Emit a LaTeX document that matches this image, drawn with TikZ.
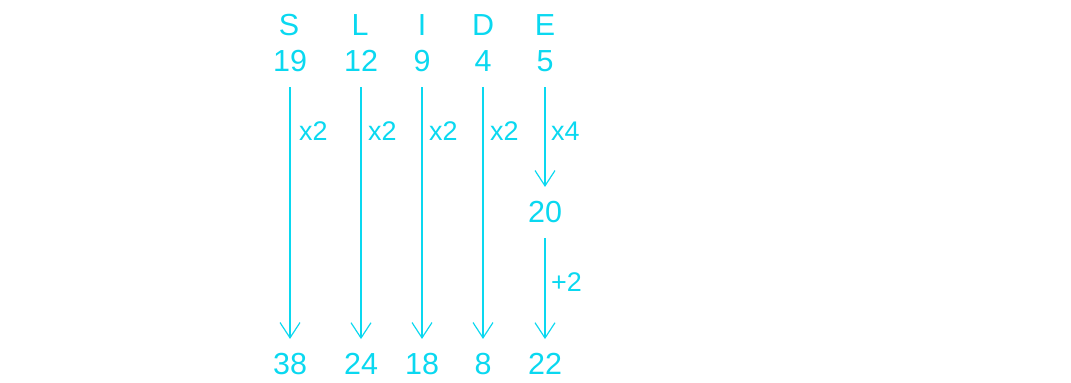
\documentclass[tikz,border=0pt]{standalone}
\usepackage{fontspec}
\setmainfont{Liberation Sans}
\usetikzlibrary{arrows.meta, positioning}
\definecolor{slideCyan}{HTML}{0AD8F0}
\tikzset{
  arrowC/.style={-{Straight Barb[length=4.6mm, width=6mm, line width=1pt]},
                 slideCyan, line width=2.4pt, shorten <=13pt, shorten >=12pt},
  txtC/.style={text=slideCyan, font=\fontsize{26}{28}\selectfont, inner sep=0pt},
  opC/.style={text=slideCyan, font=\fontsize{23}{26}\selectfont, inner sep=0pt,
              anchor=west},
}
\begin{document}
\begin{tikzpicture}[x=0.03cm, y=-0.03cm]
    \useasboundingbox (0,0) rectangle (1071,382);
    %% word
    \node[txtC] (lS) at (289, 25) {S};
    \node[txtC] (lL) at (360, 25) {L};
    \node[txtC] (lI) at (422, 25) {I};
    \node[txtC] (lD) at (483, 25) {D};
    \node[txtC] (lE) at (545, 25) {E};
    %% position values
    \node[txtC] (tS) at (290, 61) {19};
    \node[txtC] (tL) at (361, 61) {12};
    \node[txtC] (tI) at (422, 61) {9};
    \node[txtC] (tD) at (483, 61) {4};
    \node[txtC] (tE) at (545, 61) {5};
    %% results
    \node[txtC] (bS) at (290, 364) {38};
    \node[txtC] (bL) at (361, 364) {24};
    \node[txtC] (bI) at (422, 364) {18};
    \node[txtC] (bD) at (483, 364) {8};
    \node[txtC] (bE) at (545, 364) {22};
    \node[txtC] (mE) at (545, 212) {20};
    %% arrows
    \draw[arrowC] (tS) -- (bS); \draw[arrowC] (tL) -- (bL);
    \draw[arrowC] (tI) -- (bI); \draw[arrowC] (tD) -- (bD);
    \draw[arrowC] (tE) -- (mE); \draw[arrowC] (mE) -- (bE);
    %% operations
    \node[opC] (oS) at (299, 131) {x2};
    \node[opC] (oL) at (368, 131) {x2};
    \node[opC] (oI) at (429, 131) {x2};
    \node[opC] (oD) at (490, 131) {x2};
    \node[opC] (oE) at (551, 131) {x4};
    \node[opC] (oP) at (551, 282) {+2};
  \end{tikzpicture}
\end{document}
